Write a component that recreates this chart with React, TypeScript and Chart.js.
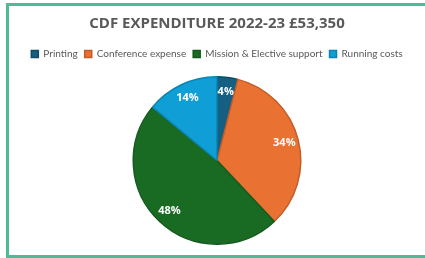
import React, { useEffect, useRef } from "react";
import { Chart, registerables } from "chart.js";

Chart.register(...registerables);

const titleText = "CDF EXPENDITURE 2022-23 £53,350";
const categories = ["Printing", "Conference expense", "Mission & Elective support", "Running costs"];
const percentages = [4, 34, 48, 14];
const sliceColors = ["#156082", "#E97132", "#196B24", "#0F9ED5"];
const sliceBorders = ["#104a66", "#c25d28", "#145a1d", "#0c84b3"];

const labelPlugin = {
  id: "pctLabels",
  afterDatasetsDraw(chart: any) {
    const ctx = chart.ctx;
    const meta = chart.getDatasetMeta(0);
    ctx.save();
    ctx.fillStyle = "#ffffff";
    ctx.font = "bold 11px 'Open Sans', sans-serif";
    ctx.textAlign = "center";
    ctx.textBaseline = "middle";
    meta.data.forEach((arc: any, i: number) => {
      const { x, y, startAngle, endAngle, outerRadius } = arc.getProps(
        ["x", "y", "startAngle", "endAngle", "outerRadius"],
        true
      );
      const mid = (startAngle + endAngle) / 2;
      const r = outerRadius * 0.83;
      ctx.fillText(percentages[i] + "%", x + Math.cos(mid) * r, y + Math.sin(mid) * r);
    });
    ctx.restore();
  },
};

const legendGapPlugin = {
  id: "legendGap",
  beforeInit(chart: any) {
    const legend = chart.legend;
    if (!legend) return;
    const origFit = legend.fit;
    legend.fit = function () {
      origFit.call(this);
      this.height += 7;
    };
  },
};

export default function App() {
  const ref = useRef<HTMLCanvasElement>(null);
  useEffect(() => {
    document.body.style.margin = "0";
    const chart = new Chart(ref.current!, {
      type: "pie",
      data: {
        labels: categories,
        datasets: [
          {
            data: percentages,
            backgroundColor: sliceColors,
            borderColor: sliceBorders,
            borderWidth: 1.5,
          },
        ],
      },
      options: {
        animation: false,
        responsive: false,
        maintainAspectRatio: false,
        layout: { padding: { top: 0, bottom: 10, left: 0, right: 0 } },
        plugins: {
          title: {
            display: true,
            text: titleText,
            color: "#595959",
            font: { family: "'Open Sans', sans-serif", size: 15, weight: "bold" },
            padding: { top: 9, bottom: 9 },
          },
          legend: {
            display: true,
            position: "top",
            labels: {
              color: "#595959",
              font: { family: "Lato, sans-serif", size: 10 },
              boxWidth: 7,
              boxHeight: 7,
              padding: 7,
            },
          },
          tooltip: { enabled: false },
        },
      },
      plugins: [legendGapPlugin, labelPlugin],
    });
    return () => chart.destroy();
  }, []);

  return (
    <div
      style={{
        position: "absolute",
        left: 6,
        top: 3,
        width: 440,
        height: 249,
        border: "3px solid #4dbb98",
        background: "#fff",
      }}
    >
      <canvas ref={ref} width={416} height={249} style={{ display: "block" }} />
    </div>
  );
}
